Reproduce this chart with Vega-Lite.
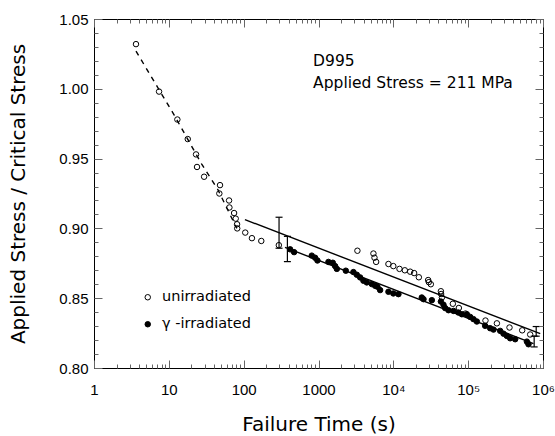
{
  "$schema": "https://vega.github.io/schema/vega-lite/v6.json",
  "autosize": "none",
  "width": 449,
  "height": 349,
  "padding": {"left": 94, "top": 19, "right": 12, "bottom": 68},
  "background": "white",
  "config": {
    "view": {"stroke": "black", "strokeWidth": 1},
    "axis": {"grid": false, "domainColor": "black", "labelColor": "black", "titleColor": "black", "domainWidth": 1}
  },
  "datasets": {
    "dashed": [
      {"t": 3.64, "s": 1.027}, {"t": 11.85, "s": 0.981}, {"t": 27.5, "s": 0.946}, {"t": 45, "s": 0.928}, {"t": 80.9, "s": 0.9}
    ],
    "fits": [
      {"fit": "unirradiated", "t": 104, "s": 0.9063}, {"fit": "unirradiated", "t": 918000, "s": 0.8246},
      {"fit": "irradiated", "t": 357, "s": 0.8864}, {"fit": "irradiated", "t": 746000, "s": 0.8175}
    ],
    "bars": [
      {"t": 297, "lo": 0.8858, "hi": 0.908},
      {"t": 384, "lo": 0.8762, "hi": 0.8943},
      {"t": 811000, "lo": 0.8228, "hi": 0.8297},
      {"t": 762000, "lo": 0.8151, "hi": 0.8228}
    ],
    "notes": [
      {"label": "D995", "t": 847, "s": 1.0163},
      {"label": "Applied Stress = 211 MPa", "t": 847, "s": 1.0006}
    ],
    "points": [
      {"series": "unirradiated", "t": 3.64, "s": 1.032},
      {"series": "unirradiated", "t": 7.4, "s": 0.998},
      {"series": "unirradiated", "t": 13.0, "s": 0.978},
      {"series": "unirradiated", "t": 17.9, "s": 0.964},
      {"series": "unirradiated", "t": 23.1, "s": 0.953},
      {"series": "unirradiated", "t": 23.8, "s": 0.944},
      {"series": "unirradiated", "t": 29.6, "s": 0.937},
      {"series": "unirradiated", "t": 48.3, "s": 0.931},
      {"series": "unirradiated", "t": 47.3, "s": 0.925},
      {"series": "unirradiated", "t": 63.8, "s": 0.92},
      {"series": "unirradiated", "t": 64.5, "s": 0.915},
      {"series": "unirradiated", "t": 74.5, "s": 0.911},
      {"series": "unirradiated", "t": 78.3, "s": 0.907},
      {"series": "unirradiated", "t": 81.6, "s": 0.903},
      {"series": "unirradiated", "t": 82, "s": 0.9},
      {"series": "unirradiated", "t": 105, "s": 0.897},
      {"series": "unirradiated", "t": 129, "s": 0.893},
      {"series": "unirradiated", "t": 172, "s": 0.891},
      {"series": "unirradiated", "t": 295, "s": 0.888},
      {"series": "unirradiated", "t": 3311, "s": 0.884},
      {"series": "unirradiated", "t": 5420, "s": 0.882},
      {"series": "unirradiated", "t": 5600, "s": 0.879},
      {"series": "unirradiated", "t": 5890, "s": 0.876},
      {"series": "unirradiated", "t": 8600, "s": 0.8745},
      {"series": "unirradiated", "t": 10000, "s": 0.873},
      {"series": "unirradiated", "t": 12080, "s": 0.871},
      {"series": "unirradiated", "t": 14240, "s": 0.87},
      {"series": "unirradiated", "t": 16780, "s": 0.869},
      {"series": "unirradiated", "t": 18970, "s": 0.868},
      {"series": "unirradiated", "t": 21930, "s": 0.865},
      {"series": "unirradiated", "t": 29200, "s": 0.863},
      {"series": "unirradiated", "t": 29800, "s": 0.8615},
      {"series": "unirradiated", "t": 31700, "s": 0.86},
      {"series": "unirradiated", "t": 43200, "s": 0.855},
      {"series": "unirradiated", "t": 43500, "s": 0.853},
      {"series": "unirradiated", "t": 44600, "s": 0.8505},
      {"series": "unirradiated", "t": 62400, "s": 0.846},
      {"series": "unirradiated", "t": 75100, "s": 0.843},
      {"series": "unirradiated", "t": 92100, "s": 0.839},
      {"series": "unirradiated", "t": 170300, "s": 0.834},
      {"series": "unirradiated", "t": 242000, "s": 0.832},
      {"series": "unirradiated", "t": 356700, "s": 0.829},
      {"series": "unirradiated", "t": 527000, "s": 0.827},
      {"series": "unirradiated", "t": 674000, "s": 0.824},
      {"series": "γ -irradiated", "t": 418, "s": 0.885},
      {"series": "γ -irradiated", "t": 472, "s": 0.883},
      {"series": "γ -irradiated", "t": 813, "s": 0.8805},
      {"series": "γ -irradiated", "t": 901, "s": 0.879},
      {"series": "γ -irradiated", "t": 968, "s": 0.877},
      {"series": "γ -irradiated", "t": 1358, "s": 0.876},
      {"series": "γ -irradiated", "t": 1552, "s": 0.8754},
      {"series": "γ -irradiated", "t": 1667, "s": 0.873},
      {"series": "γ -irradiated", "t": 1758, "s": 0.871},
      {"series": "γ -irradiated", "t": 2318, "s": 0.8697},
      {"series": "γ -irradiated", "t": 2929, "s": 0.8687},
      {"series": "γ -irradiated", "t": 3250, "s": 0.8668},
      {"series": "γ -irradiated", "t": 3600, "s": 0.8649},
      {"series": "γ -irradiated", "t": 3985, "s": 0.8625},
      {"series": "γ -irradiated", "t": 4420, "s": 0.8613},
      {"series": "γ -irradiated", "t": 5160, "s": 0.8601},
      {"series": "γ -irradiated", "t": 5710, "s": 0.8589},
      {"series": "γ -irradiated", "t": 6135, "s": 0.8582},
      {"series": "γ -irradiated", "t": 6660, "s": 0.8558},
      {"series": "γ -irradiated", "t": 8600, "s": 0.8546},
      {"series": "γ -irradiated", "t": 10000, "s": 0.8534},
      {"series": "γ -irradiated", "t": 11700, "s": 0.8529},
      {"series": "γ -irradiated", "t": 24000, "s": 0.8505},
      {"series": "γ -irradiated", "t": 25300, "s": 0.8493},
      {"series": "γ -irradiated", "t": 32700, "s": 0.8486},
      {"series": "γ -irradiated", "t": 43200, "s": 0.8476},
      {"series": "γ -irradiated", "t": 46800, "s": 0.8453},
      {"series": "γ -irradiated", "t": 49300, "s": 0.8429},
      {"series": "γ -irradiated", "t": 54600, "s": 0.8414},
      {"series": "γ -irradiated", "t": 63600, "s": 0.8409},
      {"series": "γ -irradiated", "t": 74200, "s": 0.8397},
      {"series": "γ -irradiated", "t": 82300, "s": 0.8385},
      {"series": "γ -irradiated", "t": 96000, "s": 0.8385},
      {"series": "γ -irradiated", "t": 106400, "s": 0.8366},
      {"series": "γ -irradiated", "t": 117800, "s": 0.835},
      {"series": "γ -irradiated", "t": 130600, "s": 0.8333},
      {"series": "γ -irradiated", "t": 168700, "s": 0.8302},
      {"series": "γ -irradiated", "t": 196700, "s": 0.8285},
      {"series": "γ -irradiated", "t": 218000, "s": 0.8275},
      {"series": "γ -irradiated", "t": 267700, "s": 0.8266},
      {"series": "γ -irradiated", "t": 296500, "s": 0.8246},
      {"series": "γ -irradiated", "t": 328600, "s": 0.823},
      {"series": "γ -irradiated", "t": 364000, "s": 0.8213},
      {"series": "γ -irradiated", "t": 425000, "s": 0.8206},
      {"series": "γ -irradiated", "t": 609000, "s": 0.8189},
      {"series": "γ -irradiated", "t": 640000, "s": 0.817}
    ]
  },
  "resolve": {"axis": {"x": "independent", "y": "independent"}},
  "layer": [
    {
      "data": {"name": "dashed"},
      "mark": {"type": "line", "color": "black", "strokeWidth": 1.4, "strokeDash": [5, 5]},
      "encoding": {
        "x": {"field": "t", "type": "quantitative",
          "scale": {"type": "log", "domain": [1, 1000000], "nice": false},
          "axis": {"orient": "bottom", "values": [1, 10, 100, 1000, 10000, 100000, 1000000], "ticks": false,
            "labelPadding": 14, "labelFont": "Liberation Sans", "labelFontSize": 15, "labelFlush": false, "labelOverlap": false, "labelBound": false,
            "labelExpr": "datum.value >= 10000 ? '10' + (datum.value == 10000 ? '⁴' : (datum.value == 100000 ? '⁵' : '⁶')) : format(datum.value, 'd')",
            "title": "Failure Time (s)", "titleFont": "DejaVu Sans", "titleFontSize": 20, "titleFontWeight": "normal", "titlePadding": 17}},
        "y": {"field": "s", "type": "quantitative",
          "scale": {"domain": [0.8, 1.05], "nice": false, "zero": false},
          "axis": {"orient": "left", "values": [0.8, 0.85, 0.9, 0.95, 1.0, 1.05], "format": ".2f", "ticks": false,
            "labelPadding": 6, "labelFont": "Liberation Sans", "labelFontSize": 15,
            "title": "Applied Stress / Critical Stress", "titleFont": "DejaVu Sans", "titleFontSize": 20, "titleFontWeight": "normal", "titlePadding": 30}}
      }
    },
    {
      "data": {"name": "fits"},
      "mark": {"type": "line", "color": "black", "strokeWidth": 1.4},
      "encoding": {
        "detail": {"field": "fit"},
        "x": {"field": "t", "type": "quantitative",
          "axis": {"orient": "bottom", "domain": false, "zindex": 1, "values": [1, 10, 100, 1000, 10000, 100000, 1000000], "tickSize": -8, "tickColor": "#666666", "labels": false, "title": null}},
        "y": {"field": "s", "type": "quantitative",
          "axis": {"orient": "left", "domain": false, "zindex": 1, "values": [0.8, 0.85, 0.9, 0.95, 1.0, 1.05], "tickSize": -8, "tickColor": "#666666", "labels": false, "title": null}}
      }
    },
    {
      "data": {"name": "bars"},
      "mark": {"type": "rule", "color": "black", "strokeWidth": 1.2},
      "encoding": {
        "x": {"field": "t", "type": "quantitative",
          "axis": {"orient": "bottom", "domain": false, "zindex": 1, "values": [2,3,4,5,6,7,8,9,20,30,40,50,60,70,80,90,200,300,400,500,600,700,800,900,2000,3000,4000,5000,6000,7000,8000,9000,20000,30000,40000,50000,60000,70000,80000,90000,200000,300000,400000,500000,600000,700000,800000,900000],
            "tickSize": -4, "tickColor": "#666666", "labels": false, "title": null}},
        "y": {"field": "lo", "type": "quantitative",
          "axis": {"orient": "left", "domain": false, "zindex": 1, "values": [0.81,0.82,0.83,0.84,0.86,0.87,0.88,0.89,0.91,0.92,0.93,0.94,0.96,0.97,0.98,0.99,1.01,1.02,1.03,1.04],
            "tickSize": -4, "tickColor": "#666666", "labels": false, "title": null}},
        "y2": {"field": "hi"}
      }
    },
    {
      "data": {"name": "bars"},
      "mark": {"type": "tick", "orient": "horizontal", "color": "black", "size": 7, "thickness": 1.2, "opacity": 1},
      "encoding": {
        "x": {"field": "t", "type": "quantitative",
          "axis": {"orient": "bottom", "offset": -349, "domain": false, "zindex": 1, "values": [1, 10, 100, 1000, 10000, 100000, 1000000], "tickSize": 8, "tickColor": "#666666", "labels": false, "title": null}},
        "y": {"field": "lo", "type": "quantitative",
          "axis": {"orient": "left", "offset": -449, "domain": false, "zindex": 1, "values": [0.8, 0.85, 0.9, 0.95, 1.0, 1.05], "tickSize": 8, "tickColor": "#666666", "labels": false, "title": null}}
      }
    },
    {
      "data": {"name": "bars"},
      "mark": {"type": "tick", "orient": "horizontal", "color": "black", "size": 7, "thickness": 1.2, "opacity": 1},
      "encoding": {
        "x": {"field": "t", "type": "quantitative",
          "axis": {"orient": "bottom", "offset": -349, "domain": false, "zindex": 1, "values": [2,3,4,5,6,7,8,9,20,30,40,50,60,70,80,90,200,300,400,500,600,700,800,900,2000,3000,4000,5000,6000,7000,8000,9000,20000,30000,40000,50000,60000,70000,80000,90000,200000,300000,400000,500000,600000,700000,800000,900000],
            "tickSize": 4, "tickColor": "#666666", "labels": false, "title": null}},
        "y": {"field": "hi", "type": "quantitative",
          "axis": {"orient": "left", "offset": -449, "domain": false, "zindex": 1, "values": [0.81,0.82,0.83,0.84,0.86,0.87,0.88,0.89,0.91,0.92,0.93,0.94,0.96,0.97,0.98,0.99,1.01,1.02,1.03,1.04],
            "tickSize": 4, "tickColor": "#666666", "labels": false, "title": null}}
      }
    },
    {
      "data": {"name": "points"},
      "mark": {"type": "point", "shape": "circle", "filled": true, "stroke": "black", "strokeWidth": 1, "opacity": 1, "size": 30},
      "encoding": {
        "x": {"field": "t", "type": "quantitative", "axis": null},
        "y": {"field": "s", "type": "quantitative", "axis": null},
        "fill": {"field": "series", "type": "nominal",
          "scale": {"domain": ["unirradiated", "γ -irradiated"], "range": ["transparent", "black"]},
          "legend": {"orient": "none", "legendX": 46.5, "legendY": 271, "title": null, "padding": 0,
            "labelFont": "DejaVu Sans", "labelFontSize": 14.5, "labelColor": "black", "labelOffset": 7,
            "symbolType": "circle", "symbolSize": 30, "symbolStrokeColor": "black", "symbolStrokeWidth": 1, "rowPadding": 12}}
      }
    },
    {
      "data": {"name": "notes"},
      "mark": {"type": "text", "align": "left", "baseline": "alphabetic", "font": "DejaVu Sans", "fontSize": 15.5, "color": "black"},
      "encoding": {
        "text": {"field": "label"},
        "x": {"field": "t", "type": "quantitative", "axis": null},
        "y": {"field": "s", "type": "quantitative", "axis": null}
      }
    }
  ]
}
